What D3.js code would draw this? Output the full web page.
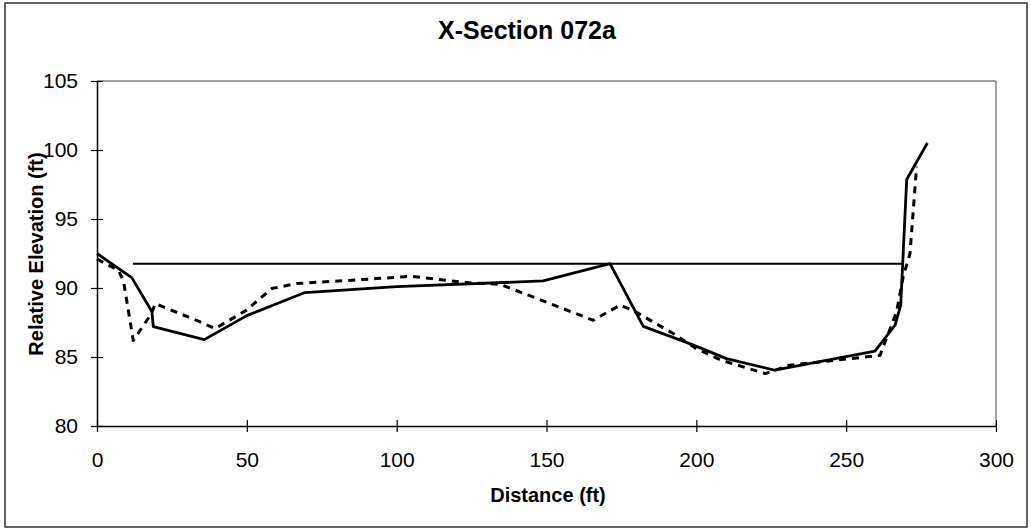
<!DOCTYPE html>
<html>
<head>
<meta charset="utf-8">
<script src="https://cdn.jsdelivr.net/npm/d3@7"></script>
<style>
  html, body { margin: 0; padding: 0; background: #fff; }
  svg { display: block; }
  text { font-family: "Liberation Sans", Arial, sans-serif; fill: #000; }
</style>
</head>
<body>
<svg id="chart" width="1031" height="530"></svg>
<script>
// ---- data ----
const chartTitle = "X-Section 072a";
const xTitle = "Distance (ft)";
const yTitle = "Relative Elevation (ft)";
const xTicks = [0, 50, 100, 150, 200, 250, 300];
const yTicks = [80, 85, 90, 95, 100, 105];

// survey 1 (solid)
const solidDist = [0, 11.6, 18.3, 18.8, 35.8, 50, 69.4, 100, 148.9, 171.2, 182.3, 198, 210.1, 226.2, 259.6, 266.3, 268.2, 270.2, 277.1];
const solidElev = [92.5, 90.75, 88.3, 87.2, 86.26, 88.0, 89.67, 90.1, 90.51, 91.77, 87.22, 85.95, 84.88, 84.04, 85.43, 87.3, 88.75, 97.86, 100.51];

// survey 2 (dashed)
const dashDist = [0, 7.1, 8.8, 12.1, 18.2, 19.4, 24.4, 33.8, 39.4, 49.8, 58.3, 66.6, 93.3, 105, 123.3, 134.5, 165.6, 174.5, 178.9, 192.3, 200, 208.4, 223, 231, 261.3, 266.8, 269, 271.3, 273.5];
const dashElev = [92.1, 91.28, 90.56, 86.2, 88.15, 88.87, 88.43, 87.6, 87.06, 88.38, 89.96, 90.32, 90.68, 90.85, 90.39, 90.27, 87.66, 88.75, 88.38, 86.7, 85.6, 84.76, 83.8, 84.4, 85.12, 88.26, 90.8, 92.5, 98.8];

// water surface
const waterDist = [12, 268.7];
const waterElev = [91.75, 91.75];

// ---- drawing ----
const svg = d3.select("#chart");
const x = d3.scaleLinear().domain([0, 300]).range([97, 996]);
const y = d3.scaleLinear().domain([80, 105]).range([426, 81]);

// outer chart border
svg.append("rect")
  .attr("x", 5).attr("y", 3).attr("width", 1022).attr("height", 524)
  .attr("fill", "none").attr("stroke", "#333").attr("stroke-width", 1.5);

// plot area border (top and right)
svg.append("path")
  .attr("d", `M${x(0)},${y(105)}H${x(300)}V${y(80)}`)
  .attr("fill", "none").attr("stroke", "#444").attr("stroke-width", 1);

// axes
const xAxis = svg.append("g")
  .attr("transform", `translate(0,${y(80)})`)
  .call(d3.axisBottom(x).tickValues(xTicks).tickSize(6).tickSizeOuter(0).tickPadding(20));
xAxis.select(".domain").attr("stroke", "#000").attr("stroke-width", 1.5);
xAxis.selectAll(".tick line").attr("y1", -6).attr("y2", 6).attr("stroke", "#000").attr("stroke-width", 1.2);
xAxis.selectAll(".tick text").attr("font-size", 21).attr("font-family", "Liberation Sans, Arial, sans-serif").attr("fill", "#000");

const yAxis = svg.append("g")
  .attr("transform", `translate(${x(0)},0)`)
  .call(d3.axisLeft(y).tickValues(yTicks).tickSize(6).tickSizeOuter(0).tickPadding(13));
yAxis.select(".domain").attr("stroke", "#000").attr("stroke-width", 1.5);
yAxis.selectAll(".tick line").attr("x1", -6).attr("x2", 6).attr("stroke", "#000").attr("stroke-width", 1.2);
yAxis.selectAll(".tick text").attr("font-size", 21).attr("font-family", "Liberation Sans, Arial, sans-serif").attr("fill", "#000");

// lines
const line = d3.line().x(d => x(d[0])).y(d => y(d[1]));
const zip = (a, b) => a.map((v, i) => [v, b[i]]);

svg.append("path")
  .datum(zip(waterDist, waterElev))
  .attr("d", line).attr("fill", "none").attr("stroke", "#000").attr("stroke-width", 2);

svg.append("path")
  .datum(zip(dashDist, dashElev))
  .attr("d", line).attr("fill", "none").attr("stroke", "#000").attr("stroke-width", 3)
  .attr("stroke-dasharray", "7,6").attr("stroke-linejoin", "round");

svg.append("path")
  .datum(zip(solidDist, solidElev))
  .attr("d", line).attr("fill", "none").attr("stroke", "#000").attr("stroke-width", 2.8)
  .attr("stroke-linejoin", "round");

// titles
svg.append("text")
  .attr("x", 527).attr("y", 39)
  .attr("text-anchor", "middle").attr("font-size", 25).attr("font-weight", "bold")
  .text(chartTitle);

svg.append("text")
  .attr("x", 548).attr("y", 502)
  .attr("text-anchor", "middle").attr("font-size", 20).attr("font-weight", "bold")
  .text(xTitle);

svg.append("text")
  .attr("transform", `translate(43,254) rotate(-90)`)
  .attr("text-anchor", "middle").attr("font-size", 20).attr("font-weight", "bold")
  .text(yTitle);
</script>
</body>
</html>
